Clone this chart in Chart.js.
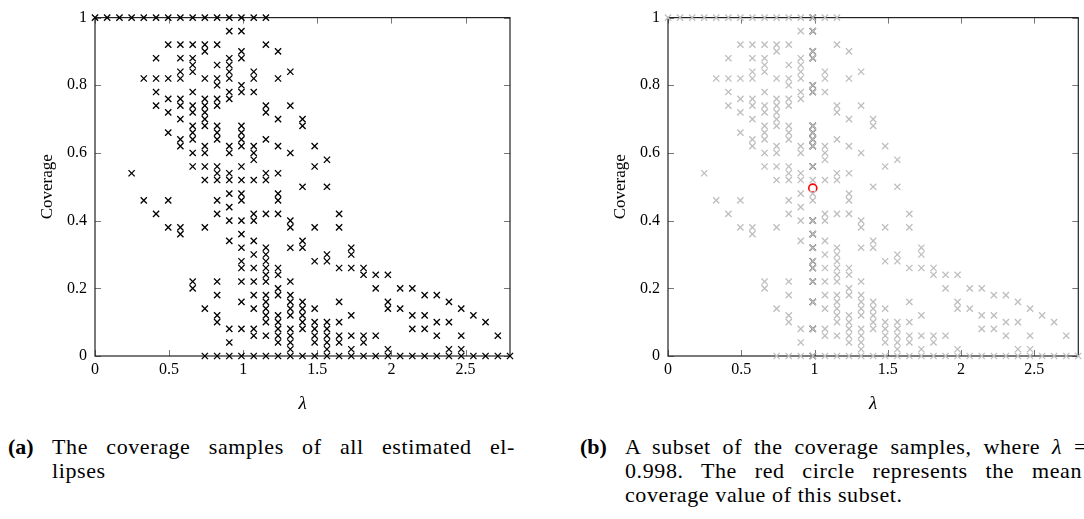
<!DOCTYPE html>
<html>
<head>
<meta charset="utf-8">
<script src="https://cdn.jsdelivr.net/npm/chart.js@4.4.1/dist/chart.umd.min.js"></script>
<style>
  html, body { margin: 0; padding: 0; background: #fff; }
  body { width: 1084px; height: 519px; position: relative; overflow: hidden; font-family: "Liberation Serif", "DejaVu Serif", serif; color: #000; }
  canvas { position: absolute; top: 0; }
  #c1 { left: 0; }
  #c2 { left: 545px; }
  .cap { position: absolute; font-size: 22px; white-space: nowrap; line-height: 23px; letter-spacing: 0.6px; }
  .lbl { position: absolute; font-weight: bold; font-size: 22px; line-height: 23px; }
  .just { text-align: justify; text-align-last: justify; }
</style>
</head>
<body>
<canvas id="c1" width="545" height="430"></canvas>
<canvas id="c2" width="539" height="430"></canvas>

<div class="lbl" style="left:8px; top:435px;">(a)</div>
<div class="cap just" style="left:52px; top:435px; width:463px;">The coverage samples of all estimated el-</div>
<div class="cap" style="left:52px; top:459px;">lipses</div>

<div class="lbl" style="left:580px; top:435px;">(b)</div>
<div class="cap just" style="left:625px; top:435px; width:462px;">A subset of the coverage samples, where <i>λ</i> =</div>
<div class="cap just" style="left:625px; top:459px; width:457px;">0.998. The red circle represents the mean</div>
<div class="cap" style="left:625px; top:483px;">coverage value of this subset.</div>

<script>
// ---- data ----
const lambdaGrid = [0, 0.082, 0.165, 0.247, 0.329, 0.412, 0.494, 0.576, 0.659, 0.741, 0.824, 0.906, 0.988, 1.071, 1.153, 1.235, 1.318, 1.4, 1.482, 1.565, 1.647, 1.729, 1.812, 1.894, 1.976, 2.059, 2.141, 2.224, 2.306, 2.388, 2.471, 2.553, 2.635, 2.718, 2.8];

const coverageColumns = [
  [1],
  [1],
  [1],
  [1, 0.54],
  [1, 0.82, 0.46],
  [1, 0.88, 0.82, 0.78, 0.74, 0.42],
  [1, 0.92, 0.82, 0.76, 0.72, 0.66, 0.46, 0.38],
  [1, 0.92, 0.88, 0.84, 0.82, 0.76, 0.74, 0.70, 0.64, 0.62, 0.38, 0.36],
  [1, 0.92, 0.88, 0.86, 0.84, 0.78, 0.74, 0.72, 0.68, 0.66, 0.64, 0.60, 0.56, 0.22, 0.20],
  [1, 0.92, 0.90, 0.82, 0.76, 0.74, 0.72, 0.70, 0.68, 0.62, 0.60, 0.56, 0.52, 0.38, 0.14, 0],
  [1, 0.92, 0.86, 0.82, 0.80, 0.76, 0.74, 0.68, 0.66, 0.64, 0.56, 0.54, 0.52, 0.46, 0.42, 0.22, 0.18, 0.12, 0.10, 0],
  [1, 0.96, 0.88, 0.86, 0.84, 0.82, 0.78, 0.76, 0.62, 0.60, 0.54, 0.52, 0.48, 0.44, 0.40, 0.34, 0.08, 0.04, 0],
  [1, 0.96, 0.90, 0.88, 0.80, 0.78, 0.68, 0.66, 0.64, 0.62, 0.56, 0.52, 0.48, 0.46, 0.40, 0.36, 0.32, 0.28, 0.26, 0.22, 0.16, 0.08, 0],
  [1, 0.84, 0.82, 0.78, 0.62, 0.60, 0.58, 0.52, 0.42, 0.40, 0.34, 0.30, 0.26, 0.22, 0.18, 0.14, 0.08, 0.06, 0],
  [1, 0.92, 0.74, 0.72, 0.64, 0.54, 0.52, 0.42, 0.32, 0.30, 0.28, 0.26, 0.24, 0.22, 0.18, 0.16, 0.14, 0.12, 0.10, 0.06, 0],
  [0.90, 0.82, 0.70, 0.62, 0.54, 0.48, 0.46, 0.42, 0.26, 0.24, 0.20, 0.18, 0.12, 0.10, 0.08, 0.06, 0.04, 0],
  [0.84, 0.74, 0.60, 0.40, 0.38, 0.32, 0.22, 0.18, 0.16, 0.14, 0.12, 0.08, 0.06, 0.04, 0.02, 0],
  [0.70, 0.68, 0.50, 0.34, 0.32, 0.16, 0.14, 0.12, 0.10, 0.08, 0],
  [0.62, 0.56, 0.38, 0.28, 0.14, 0.10, 0.08, 0.06, 0.04, 0],
  [0.58, 0.50, 0.30, 0.28, 0.10, 0.08, 0.06, 0.04, 0.02, 0],
  [0.42, 0.38, 0.26, 0.16, 0.10, 0.06, 0.04, 0],
  [0.32, 0.30, 0.26, 0.12, 0.06, 0.02, 0],
  [0.26, 0.24, 0.06, 0.04, 0],
  [0.24, 0.20, 0.06, 0],
  [0.24, 0.16, 0.14, 0.02, 0],
  [0.20, 0.14, 0],
  [0.20, 0.12, 0.08, 0],
  [0.18, 0.12, 0.08, 0],
  [0.18, 0.10, 0.06, 0],
  [0.16, 0.10, 0.02, 0],
  [0.14, 0.06, 0.02, 0],
  [0.12, 0],
  [0.10, 0],
  [0.06, 0],
  [0]
];

const subsetLambda = 0.988;
const subsetCoverage = [1, 0.96, 0.90, 0.88, 0.80, 0.78, 0.68, 0.66, 0.64, 0.62, 0.56, 0.40, 0.36, 0.32, 0.28, 0.26, 0.22, 0.16, 0.08, 0];
const subsetMeanCoverage = 0.496;

const xTickValues = [0, 0.5, 1, 1.5, 2, 2.5];
const yTickValues = [0, 0.2, 0.4, 0.6, 0.8, 1];
const xLabel = 'λ';
const yLabel = 'Coverage';

// ---- build point lists from the arrays ----
const allPoints = [];
lambdaGrid.forEach((lam, i) => coverageColumns[i].forEach(c => allPoints.push({x: lam, y: c})));
const subsetPoints = subsetCoverage.map(c => ({x: subsetLambda, y: c}));
const meanPoint = [{x: subsetLambda, y: subsetMeanCoverage}];

const serif = '"Liberation Serif", "DejaVu Serif", serif';

const framePlugin = {
  id: 'frame',
  beforeDatasetsDraw(chart) {
    const {ctx, chartArea: a, scales} = chart;
    ctx.save();
    ctx.strokeStyle = '#777';
    ctx.lineWidth = 1;
    const tl = 6;
    ctx.beginPath();
    xTickValues.forEach(v => {
      const px = Math.round(scales.x.getPixelForValue(v)) + 0.5;
      ctx.moveTo(px, a.bottom); ctx.lineTo(px, a.bottom - tl);
      ctx.moveTo(px, a.top); ctx.lineTo(px, a.top + tl);
    });
    yTickValues.forEach(v => {
      const py = Math.round(scales.y.getPixelForValue(v)) + 0.5;
      ctx.moveTo(a.left, py); ctx.lineTo(a.left + tl, py);
      ctx.moveTo(a.right, py); ctx.lineTo(a.right - tl, py);
    });
    ctx.stroke();
    ctx.strokeStyle = '#222';
    ctx.lineWidth = 1.2;
    ctx.strokeRect(a.left, a.top, a.right - a.left, a.bottom - a.top);
    ctx.restore();
  }
};

function makeChart(id, datasets, yAxisWidth, titlePad) {
  return new Chart(document.getElementById(id), {
    type: 'scatter',
    data: { datasets },
    options: {
      responsive: false,
      animation: false,
      devicePixelRatio: 1,
      events: [],
      layout: { padding: { left: 0, top: 11, right: id === 'c1' ? 35 : 1, bottom: 0 } },
      plugins: { legend: { display: false }, tooltip: { enabled: false } },
      scales: {
        x: {
          type: 'linear', min: 0, max: 2.8,
          afterBuildTicks: s => { s.ticks = xTickValues.map(v => ({value: v})); },
          afterFit: s => { s.height = 74; },
          grid: { display: false, drawTicks: false },
          border: { display: false },
          ticks: { padding: 4, color: '#000', font: { family: serif, size: 16 }, maxRotation: 0,
                   callback: v => String(v) },
          title: { display: true, text: xLabel, color: '#000', padding: { top: 0, bottom: 15 },
                   font: { family: serif, size: 19, style: 'italic' } }
        },
        y: {
          type: 'linear', min: 0, max: 1,
          afterBuildTicks: s => { s.ticks = yTickValues.map(v => ({value: v})); },
          afterFit: s => { s.width = yAxisWidth; },
          grid: { display: false, drawTicks: false },
          border: { display: false },
          ticks: { padding: 8, color: '#000', font: { family: serif, size: 16 },
                   callback: v => String(v) },
          title: { display: true, text: yLabel, color: '#000', padding: { top: titlePad, bottom: 0 },
                   font: { family: serif, size: 17 } }
        }
      }
    },
    plugins: [framePlugin]
  });
}

const crossStyle = { pointStyle: 'crossRot', pointRadius: 4.4, pointBorderWidth: 1.3, clip: false };

makeChart('c1', [
  Object.assign({ data: allPoints, borderColor: '#000', backgroundColor: '#000' }, crossStyle)
], 95, 37);

makeChart('c2', [
  Object.assign({ data: allPoints, borderColor: 'rgb(190,190,190)', backgroundColor: 'rgb(190,190,190)' }, crossStyle),
  Object.assign({ data: subsetPoints, borderColor: '#000', backgroundColor: '#000' }, crossStyle),
  { data: meanPoint, pointStyle: 'circle', pointRadius: 4, pointBorderWidth: 1.6, borderColor: '#f00',
    backgroundColor: 'rgba(255,255,255,0)', clip: false }
], 123, 65);
</script>
</body>
</html>
